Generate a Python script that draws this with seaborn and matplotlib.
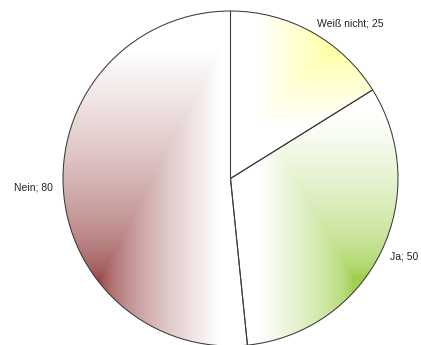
import numpy as np
import matplotlib
matplotlib.use("Agg")
import matplotlib.pyplot as plt
import seaborn as sns

labels = ["Weiß nicht", "Ja", "Nein"]
values = [25, 50, 80]
base_colors = [(255, 255, 160), (160, 208, 80), (150, 68, 68)]

sns.set_theme(style="white")
plt.rcParams['font.family'] = ['Liberation Sans', 'DejaVu Sans']

W, H = 421, 345
fig = plt.figure(figsize=(W / 100, H / 100), dpi=100)
ax = fig.add_axes([0, 0, 1, 1])

cx_px, cy_px, r_px = 230.5, 178.5, 167.5
xmin, xmax = -cx_px / r_px, (W - cx_px) / r_px
ymin, ymax = -(H - cy_px) / r_px, cy_px / r_px

texts = [f"{l}; {v}" for l, v in zip(labels, values)]
wedges, txts = ax.pie(values, labels=texts, startangle=90, counterclock=False,
                      labeldistance=1.06,
                      wedgeprops=dict(facecolor="none", edgecolor="#3a3a3a", linewidth=0.75),
                      textprops=dict(fontsize=7.5, color="#222222"))

# gradient parameters in pixel space: darkest point, x-falloff, y-falloff, gamma
grad = [
    dict(c=(330, 50), a=75, b=75, mode="yabs", g=0.8),
    dict(c=(352, 275), a=95, b=160, mode="up", g=0.6),
    dict(c=(100, 278), a=120, b=230, mode="upright", g=0.6),
]
yy, xx = np.mgrid[0:H, 0:W].astype(float)
for w, col, g in zip(wedges, base_colors, grad):
    cxp, cyp = g["c"]
    if g["mode"] == "upright":
        dx = (xx - cxp) / g["a"]
    else:
        dx = (cxp - xx) / g["a"]
    if g["mode"] == "yabs":
        dy = np.abs(yy - cyp) / g["b"]
    else:
        dy = (cyp - yy) / g["b"]
    t = np.clip(np.maximum(dx, dy), 0, 1) ** g["g"]
    c = np.array(col, dtype=float) / 255
    img = c[None, None, :] * (1 - t[..., None]) + 1.0 * t[..., None]
    im = ax.imshow(img, extent=(xmin, xmax, ymin, ymax), origin="upper",
                   interpolation="bilinear", zorder=0)
    im.set_clip_path(w)
    w.set_zorder(2)

ax.set_xlim(xmin, xmax)
ax.set_ylim(ymin, ymax)
ax.set_aspect("auto")
ax.axis("off")
fig.savefig("out.png", dpi=100, facecolor="white")
